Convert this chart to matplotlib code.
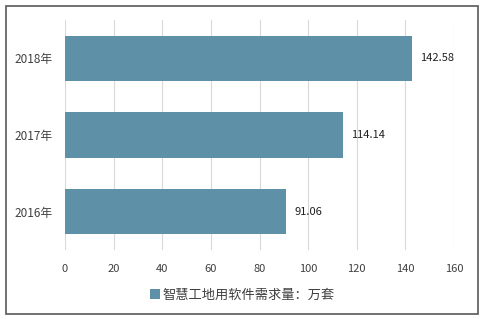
import matplotlib.pyplot as plt
from matplotlib.patches import Rectangle

plt.rcParams['font.family'] = ['Noto Sans CJK SC', 'DejaVu Sans']

years = ['2016年', '2017年', '2018年']
demand = [91.06, 114.14, 142.58]
series_name = '智慧工地用软件需求量：万套'
xticks = [0, 20, 40, 60, 80, 100, 120, 140, 160]

bar_color = '#5E91A7'
text_color = '#404040'

fig = plt.figure(figsize=(4.85, 3.19), dpi=100)
ax = fig.add_axes([65 / 485, 1 - 250 / 319, (454 - 65) / 485, 230 / 319])

bars = ax.barh(years, demand, height=0.59, color=bar_color, label=series_name, zorder=3)
for b, v in zip(bars, demand):
    ax.text(b.get_width() + 3.5, b.get_y() + b.get_height() / 2, f'{v:.2f}',
            va='center', ha='left', fontsize=8, color='#202020')

ax.set_xlim(0, 160)
ax.set_ylim(-0.5, 2.5)
ax.set_xticks(xticks)
ax.grid(axis='x', color='#D9D9D9', linewidth=0.8, zorder=0)
for s in ax.spines.values():
    s.set_visible(False)
ax.tick_params(axis='both', length=0, labelsize=8, colors=text_color)
ax.tick_params(axis='y', labelsize=8.5, pad=9)
ax.tick_params(axis='x', pad=10)

fig.legend(loc='center', bbox_to_anchor=(0.5, 1 - 295 / 319), frameon=False,
           fontsize=9.5, handlelength=0.7, handleheight=0.7, handletextpad=0.2,
           labelcolor=text_color)

fig.patches.append(Rectangle((6 / 485, 1 - 314 / 319), 472 / 485, 308 / 319,
                             transform=fig.transFigure, fill=False,
                             edgecolor='#595959', linewidth=1.2))

fig.savefig('out.png', dpi=100)
